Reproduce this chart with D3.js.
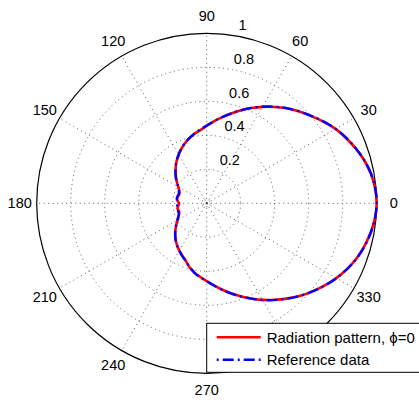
<!DOCTYPE html>
<html>
<head>
<meta charset="utf-8">
<script src="https://cdn.jsdelivr.net/npm/d3@7"></script>
<style>
  body { margin: 0; background: #fff; }
  svg { display: block; font-family: "Liberation Sans", Arial, Helvetica, sans-serif; }
</style>
</head>
<body>
<svg width="419" height="400"></svg>
<script>
  // radiation pattern, phi = 0 : angle (deg) and normalised magnitude
  var patternAngles = [0, 5, 10, 15, 20, 25, 30, 35, 40, 45, 50, 55, 60, 65, 70, 75, 80, 85,
                       90, 95, 100, 105, 110, 115, 120, 125, 130, 135, 140, 145, 150, 155, 160, 165, 170, 175,
                       180, 185, 190, 195, 200, 205, 210, 215, 220, 225, 230, 235, 240, 245, 250, 255, 260, 265,
                       270, 275, 280, 285, 290, 295, 300, 305, 310, 315, 320, 325, 330, 335, 340, 345, 350, 355];
  var patternValues = [1.000, 0.995, 0.982, 0.962, 0.935, 0.906, 0.875, 0.838, 0.800, 0.765, 0.730, 0.692, 0.655, 0.618, 0.581, 0.545, 0.513, 0.484,
                       0.456, 0.432, 0.415, 0.395, 0.375, 0.353, 0.330, 0.307, 0.283, 0.258, 0.236, 0.213, 0.193, 0.178, 0.170, 0.172, 0.177, 0.172,
                       0.163, 0.168, 0.175, 0.170, 0.172, 0.183, 0.198, 0.218, 0.240, 0.262, 0.283, 0.303, 0.322, 0.340, 0.360, 0.390, 0.414, 0.435,
                       0.458, 0.485, 0.515, 0.548, 0.582, 0.618, 0.656, 0.693, 0.732, 0.772, 0.808, 0.845, 0.880, 0.912, 0.940, 0.962, 0.980, 0.994];

  // reference data
  var refAngles = [0, 10, 20, 30, 40, 50, 60, 70, 80, 90, 100, 110, 120, 130, 140, 150, 160, 170,
                   180, 190, 200, 210, 220, 230, 240, 250, 260, 270, 280, 290, 300, 310, 320, 330, 340, 350];
  var refValues = [1.000, 0.983, 0.936, 0.876, 0.801, 0.731, 0.656, 0.582, 0.514, 0.457, 0.416, 0.376, 0.331, 0.284, 0.237, 0.194, 0.174, 0.178,
                   0.172, 0.178, 0.174, 0.199, 0.241, 0.284, 0.323, 0.361, 0.415, 0.459, 0.516, 0.583, 0.657, 0.733, 0.809, 0.881, 0.941, 0.981];

  var ringValues = [0.2, 0.4, 0.6, 0.8, 1];
  var ringLabels = ["0.2", "0.4", "0.6", "0.8", "1"];
  var spokeAngles = [0, 30, 60, 90, 120, 150, 180, 210, 240, 270, 300, 330];
  // the 300 label sits under the legend box, so it is left blank
  var spokeLabels = ["0", "30", "60", "90", "120", "150", "180", "210", "240", "270", "", "330"];
  var legendLabels = ["Radiation pattern, \u03d5=0", "Reference data"];

  var svg = d3.select("svg"),
      cx = 206.7,
      cy = 203.3,
      R = 170;

  var r = d3.scaleLinear().domain([0, 1]).range([0, R]);
  var rad = function(deg) { return deg * Math.PI / 180; };

  svg.append("rect").attr("width", 419).attr("height", 400).attr("fill", "#fff");

  var g = svg.append("g").attr("transform", "translate(" + cx + "," + cy + ")");

  // white disc + grid
  g.append("circle").attr("r", r(1)).attr("fill", "#fff");

  g.append("g").selectAll("circle")
    .data([0.02].concat(ringValues.slice(0, -1)))
    .enter().append("circle")
      .attr("r", function(d) { return r(d); })
      .attr("fill", "none")
      .attr("stroke", "#333")
      .attr("stroke-width", 0.8)
      .attr("stroke-dasharray", "1,3.5");

  g.append("g").selectAll("line")
    .data(spokeAngles)
    .enter().append("line")
      .attr("x1", 0).attr("y1", 0)
      .attr("x2", function(d) { return r(1) * Math.cos(rad(d)); })
      .attr("y2", function(d) { return -r(1) * Math.sin(rad(d)); })
      .attr("stroke", "#333")
      .attr("stroke-width", 0.8)
      .attr("stroke-dasharray", "1,3.5");

  g.append("circle")
    .attr("r", r(1))
    .attr("fill", "none")
    .attr("stroke", "#000")
    .attr("stroke-width", 1.2);

  // ring labels at 82 deg, like matlab polar()
  g.append("g").selectAll("text")
    .data(ringValues)
    .enter().append("text")
      .attr("x", function(d) { return r(d + 0.01) * Math.cos(rad(82)) + 8; })
      .attr("y", function(d) { return -r(d + 0.01) * Math.sin(rad(82)) - 3; })
      .attr("font-size", "14.5px")
      .attr("fill", "#000")
      .text(function(d, i) { return ringLabels[i]; });

  // angle labels
  g.append("g").selectAll("text")
    .data(spokeAngles.filter(function(d, i) { return spokeLabels[i] !== ""; }))
    .enter().append("text")
      .attr("x", function(d) { return r(1.1) * Math.cos(rad(d)); })
      .attr("y", function(d) { return -r(1.1) * Math.sin(rad(d)); })
      .attr("text-anchor", "middle")
      .attr("dominant-baseline", "central")
      .attr("font-size", "14.5px")
      .attr("fill", "#000")
      .text(function(d) { return spokeLabels[spokeAngles.indexOf(d)]; });

  var line = d3.lineRadial()
    .angle(function(d) { return Math.PI / 2 - rad(d[0]); })
    .radius(function(d) { return r(d[1]); })
    .curve(d3.curveCatmullRomClosed);

  var pattern = patternAngles.map(function(a, i) { return [a, patternValues[i]]; });
  var reference = refAngles.map(function(a, i) { return [a, refValues[i]]; });

  g.append("path")
    .datum(pattern)
    .attr("d", line)
    .attr("fill", "none")
    .attr("stroke", "#ff0000")
    .attr("stroke-width", 2.6);

  g.append("path")
    .datum(reference)
    .attr("d", line)
    .attr("fill", "none")
    .attr("stroke", "#0000ff")
    .attr("stroke-width", 2.4)
    .attr("stroke-dasharray", "11,4,2,4");

  // legend
  var lg = svg.append("g").attr("transform", "translate(206.7,323.3)");
  lg.append("rect")
    .attr("width", 230).attr("height", 49)
    .attr("fill", "#fff")
    .attr("stroke", "#000")
    .attr("stroke-width", 1);

  var rows = lg.selectAll("g.row")
    .data(legendLabels)
    .enter().append("g")
      .attr("class", "row")
      .attr("transform", function(d, i) { return "translate(0," + (14 + i * 22.5) + ")"; });

  rows.append("line")
    .attr("x1", 10).attr("x2", 54)
    .attr("stroke", function(d, i) { return i === 0 ? "#ff0000" : "#0000ff"; })
    .attr("stroke-width", function(d, i) { return i === 0 ? 2.6 : 2.4; })
    .attr("stroke-dasharray", function(d, i) { return i === 0 ? null : "2,4,11,4"; });

  rows.append("text")
    .attr("x", 60)
    .attr("dominant-baseline", "central")
    .attr("font-size", "15px")
    .attr("fill", "#000")
    .text(function(d) { return d; });
</script>
</body>
</html>
